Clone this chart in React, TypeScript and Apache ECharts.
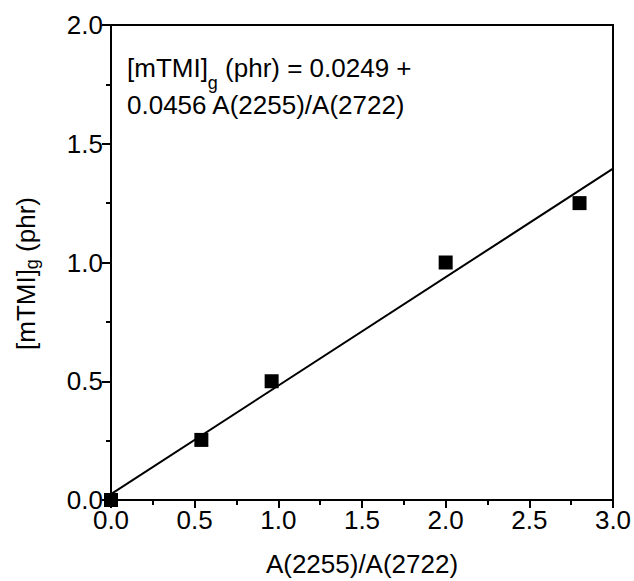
import React, { useEffect, useRef } from "react";
import * as echarts from "echarts";

const pointsX = [0, 0.54, 0.96, 2.0, 2.8];
const pointsY = [0, 0.253, 0.5, 1.0, 1.25];
const fitX = [0, 3.0];
const fitY = [0.025, 1.395];
const xTicks = [0, 0.5, 1.0, 1.5, 2.0, 2.5, 3.0];
const yTicks = [0, 0.5, 1.0, 1.5, 2.0];
const xName = "A(2255)/A(2722)";
const eqLine1a = "[mTMI]";
const eqLine1b = "g";
const eqLine1c = " (phr) = 0.0249 +";
const eqLine2 = "0.0456 A(2255)/A(2722)";

const FONT = "Liberation Sans, Arial, Helvetica, sans-serif";
const FS = 26;

export default function App() {
  const ref = useRef<HTMLDivElement>(null);
  useEffect(() => {
    document.body.style.margin = "0";
    const chart = echarts.init(ref.current!, null, { renderer: "svg" });
    const L = 111, T = 25, W = 502, H = 475;
    chart.setOption({
      animation: false,
      backgroundColor: "#ffffff",
      textStyle: { fontFamily: FONT, color: "#000" },
      grid: {
        left: L, top: T, width: W, height: H,
        containLabel: false,
        outerBoundsMode: "none",
        show: true, borderColor: "#000", borderWidth: 2, backgroundColor: "transparent",
      },
      xAxis: {
        type: "value",
        min: xTicks[0],
        max: xTicks[xTicks.length - 1],
        interval: 0.5,
        name: xName,
        nameLocation: "middle",
        nameGap: 51,
        nameTextStyle: { fontSize: FS, color: "#000", fontFamily: FONT },
        axisLine: { show: true, onZero: false, lineStyle: { color: "#000", width: 2 } },
        axisTick: { show: true, inside: false, length: 8, lineStyle: { color: "#000", width: 2 } },
        minorTick: { show: true, splitNumber: 2, length: 5, lineStyle: { color: "#000", width: 2 } },
        splitLine: { show: false },
        axisLabel: { margin: 7, fontSize: FS, color: "#000", fontFamily: FONT, formatter: (v: number) => v.toFixed(1) },
      },
      yAxis: {
        type: "value",
        min: yTicks[0],
        max: yTicks[yTicks.length - 1],
        interval: 0.5,
        name: "{a|[mTMI]}{s|g}{a| (phr)}",
        nameLocation: "middle",
        nameGap: 70,
        nameRotate: 90,
        nameTextStyle: {
          fontSize: FS,
          color: "#000",
          fontFamily: FONT,
          padding: [0, 22, 0, 0],
          rich: {
            a: { fontSize: FS, fontFamily: FONT, color: "#000", verticalAlign: "top", lineHeight: 28 },
            s: { fontSize: 18, fontFamily: FONT, color: "#000", verticalAlign: "bottom", lineHeight: 18, padding: [8, 0, 0, 0] },
          },
        },
        axisLine: { show: true, onZero: false, lineStyle: { color: "#000", width: 2 } },
        axisTick: { show: true, inside: false, length: 9, lineStyle: { color: "#000", width: 2 } },
        minorTick: { show: true, splitNumber: 2, length: 5, lineStyle: { color: "#000", width: 2 } },
        splitLine: { show: false },
        axisLabel: { margin: 8, fontSize: FS, color: "#000", fontFamily: FONT, formatter: (v: number) => v.toFixed(1) },
      },
      graphic: [
        {
          type: "text",
          left: 127,
          top: 55,
          style: {
            text: `{a|${eqLine1a}}{s|${eqLine1b}}{a|${eqLine1c}}\n{a|${eqLine2}}`,
            font: `${FS}px ${FONT}`,
            fill: "#000",
            rich: {
              a: { fontSize: FS, fontFamily: FONT, fill: "#000", lineHeight: 37, verticalAlign: "top" },
              s: { fontSize: 18, fontFamily: FONT, fill: "#000", lineHeight: 18, padding: [5, 0, 0, 0], verticalAlign: "bottom" },
            },
          },
        },
      ],
      series: [
        {
          type: "line",
          data: fitX.map((x, i) => [x, fitY[i]]),
          showSymbol: false,
          symbol: "none",
          lineStyle: { color: "#000", width: 2 },
          z: 2,
        },
        {
          type: "scatter",
          data: pointsX.map((x, i) => [x, pointsY[i]]),
          symbol: "rect",
          symbolSize: 14,
          itemStyle: { color: "#000", opacity: 1 },
          clip: false,
          z: 3,
        },
      ],
    });
    return () => chart.dispose();
  }, []);
  return <div ref={ref} style={{ width: 634, height: 581 }} />;
}
